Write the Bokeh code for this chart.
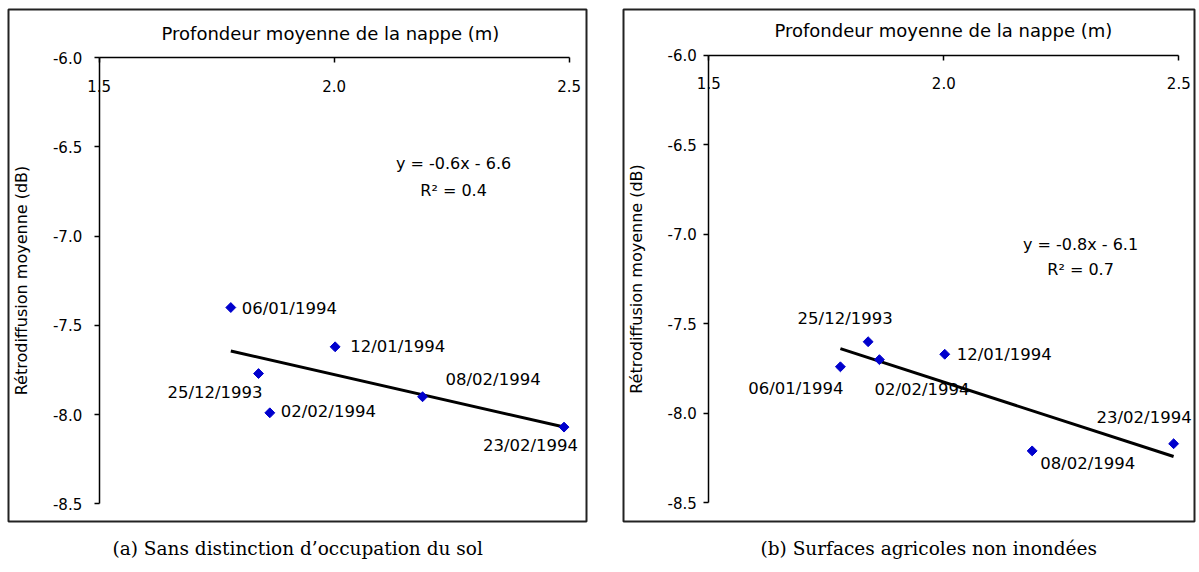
import numpy as np
from bokeh.plotting import figure
from bokeh.models import (ColumnDataSource, Range1d, FixedTicker, NumeralTickFormatter,
                          Label, Title)
from bokeh.layouts import row
from bokeh.embed import file_html
from bokeh.resources import INLINE
from bokeh.core.properties import value

# ---------------- data ----------------
dates = ["25/12/1993", "06/01/1994", "12/01/1994", "02/02/1994", "08/02/1994", "23/02/1994"]
depth = [1.839, 1.780, 2.002, 1.863, 2.188, 2.489]
backscatter_all = [-7.77, -7.40, -7.62, -7.99, -7.90, -8.07]
backscatter_agri = [-7.60, -7.74, -7.67, -7.70, -8.21, -8.17]
equations = ["y = -0.6x - 6.6", "y = -0.8x - 6.1"]
r_squared = ["R² = 0.4", "R² = 0.7"]
x_ticks = [1.5, 2.0, 2.5]
y_ticks = [-8.5, -8.0, -7.5, -7.0, -6.5, -6.0]
x_title = "Profondeur moyenne de la nappe (m)"
y_title = "Rétrodiffusion moyenne (dB)"
captions = ["(a) Sans distinction d\u2019occupation du sol", "(b) Surfaces agricoles non inondées"]

# ---------------- styles ----------------
FONT = "DejaVu Sans"
BLUE = "#0000CD"

# label placement per point, same order as `dates`: (align, dx, dy) in screen pixels
label_style_a = [("right", 4, 19), ("left", 11, 1), ("left", 15, 0),
                 ("left", 11, -1), ("left", 23, -17), ("right", 14, 18)]
label_style_b = [("center", -23, -23), ("right", 3, 22), ("left", 12, 0),
                 ("left", -5, 30), ("left", 8, 13), ("right", 18, -26)]


def make_panel(yvals, eq, r2, caption, styles, g):
    # frame = bordered panel box; axes drawn inside at fixed locations
    ppx = g["ppx"]
    ppy = g["ppy"]
    x0 = 1.5 - (g["ax_x"] - g["fl"]) / ppx
    x1 = 1.5 + (g["fr"] - g["ax_x"]) / ppx
    y1 = -6.0 + (g["ax_top"] - g["ft"]) / ppy
    y0 = -8.5 - (g["fb"] - (g["ax_top"] + 2.5 * ppy)) / ppy
    p = figure(width=g["width"], height=572,
               x_range=Range1d(x0, x1), y_range=Range1d(y0, y1),
               x_axis_location="above", toolbar_location=None, output_backend="svg",
               min_border_left=g["fl"], min_border_right=g["width"] - g["fr"],
               min_border_top=g["ft"], min_border_bottom=572 - g["fb"])
    p.grid.visible = False
    p.outline_line_color = "#222222"
    p.outline_line_width = 2
    p.background_fill_color = "white"
    p.border_fill_color = "white"

    xa = p.xaxis[0]
    xa.fixed_location = -6.0
    xa.ticker = FixedTicker(ticks=x_ticks)
    xa.formatter = NumeralTickFormatter(format="0.0")
    xa.bounds = (1.5, 2.5)
    xa.major_tick_in = 5
    xa.major_tick_out = 0
    xa.minor_tick_in = 0
    xa.minor_tick_out = 0
    xa.axis_line_width = 1.5
    xa.axis_line_color = "black"
    xa.major_tick_line_width = 1.5
    xa.major_label_text_font = FONT
    xa.major_label_text_font_size = "15px"
    xa.major_label_text_color = "black"
    xa.major_label_standoff = g["xls"]

    ya = p.yaxis[0]
    ya.fixed_location = 1.5
    ya.ticker = FixedTicker(ticks=y_ticks)
    ya.formatter = NumeralTickFormatter(format="0.0")
    ya.bounds = (-8.5, -6.0)
    ya.major_tick_in = 0
    ya.major_tick_out = 5
    ya.minor_tick_in = 0
    ya.minor_tick_out = 0
    ya.axis_line_width = 1.5
    ya.axis_line_color = "black"
    ya.major_tick_line_width = 1.5
    ya.major_label_text_font = FONT
    ya.major_label_text_font_size = "15px"
    ya.major_label_text_color = "black"
    ya.major_label_standoff = g["yls"]
    ya.axis_label = y_title
    ya.axis_label_text_font = FONT
    ya.axis_label_text_font_size = "16px"
    ya.axis_label_text_font_style = "normal"
    ya.axis_label_text_color = "black"
    ya.axis_label_standoff = g["yas"]

    # x axis title above the axis line
    p.add_layout(Label(x=g["tx"], y=-6.0 + g["ty_px"] / ppy, text=x_title,
                       text_align="center", text_baseline="middle", text_font=FONT,
                       text_font_size="18px", text_color="black"))

    # trend line (least squares)
    slope, intercept = np.polyfit(depth, yvals, 1)
    xs = [min(depth), max(depth)]
    p.line(xs, [slope * v + intercept for v in xs], line_color="black", line_width=3)

    # points
    src = ColumnDataSource(dict(x=depth, y=yvals, d=dates))
    p.scatter("x", "y", source=src, marker="square", angle=np.pi / 4, size=7,
              fill_color=BLUE, line_color=BLUE)

    # point labels, grouped by alignment
    for align in ("left", "right", "center"):
        idx = [i for i, s in enumerate(styles) if s[0] == align]
        if not idx:
            continue
        s = ColumnDataSource(dict(x=[depth[i] for i in idx], y=[yvals[i] for i in idx],
                                  t=[dates[i] for i in idx],
                                  dx=[styles[i][1] for i in idx], dy=[styles[i][2] for i in idx]))
        p.text("x", "y", text="t", source=s, x_offset="dx", y_offset="dy",
               text_align=align, text_baseline="middle", text_font=value(FONT),
               text_font_size="16.5px", text_color="black")

    # equation + R2
    p.add_layout(Label(x=g["eqx"], y=g["eqy"], text=eq, text_align="center",
                       text_baseline="middle", text_font=FONT, text_font_size="16px",
                       text_color="black"))
    p.add_layout(Label(x=g["eqx"], y=g["r2y"], text=r2, text_align="center",
                       text_baseline="middle", text_font=FONT, text_font_size="16px",
                       text_color="black"))

    # caption
    p.add_layout(Title(text=caption, align="left", offset=g["cap_off"],
                       text_font="DejaVu Serif", text_font_size="18.5px",
                       text_font_style="normal", text_color="black",
                       standoff=g["cap_standoff"]), "below")
    return p


geom_a = dict(width=600, fl=8, fr=586, ft=9, fb=522, ax_x=98.7, ax_top=57.3,
              ppx=470, ppy=178.8, xls=-34, yls=12, yas=19, tx=1.992, ty_px=24,
              eqx=2.254, eqy=-6.591, r2y=-6.743, cap_off=104, cap_standoff=28)
geom_b = dict(width=599, fl=23, fr=594, ft=9, fb=522, ax_x=108.3, ax_top=55,
              ppx=470, ppy=179.3, xls=-34, yls=7, yas=18, tx=1.999, ty_px=25,
              eqx=2.291, eqy=-7.054, r2y=-7.199, cap_off=137, cap_standoff=28)

p1 = make_panel(backscatter_all, equations[0], r_squared[0], captions[0], label_style_a, geom_a)
p2 = make_panel(backscatter_agri, equations[1], r_squared[1], captions[1], label_style_b, geom_b)

layout = row(p1, p2, spacing=0)
open("out.html", "w").write(file_html(layout, INLINE))
